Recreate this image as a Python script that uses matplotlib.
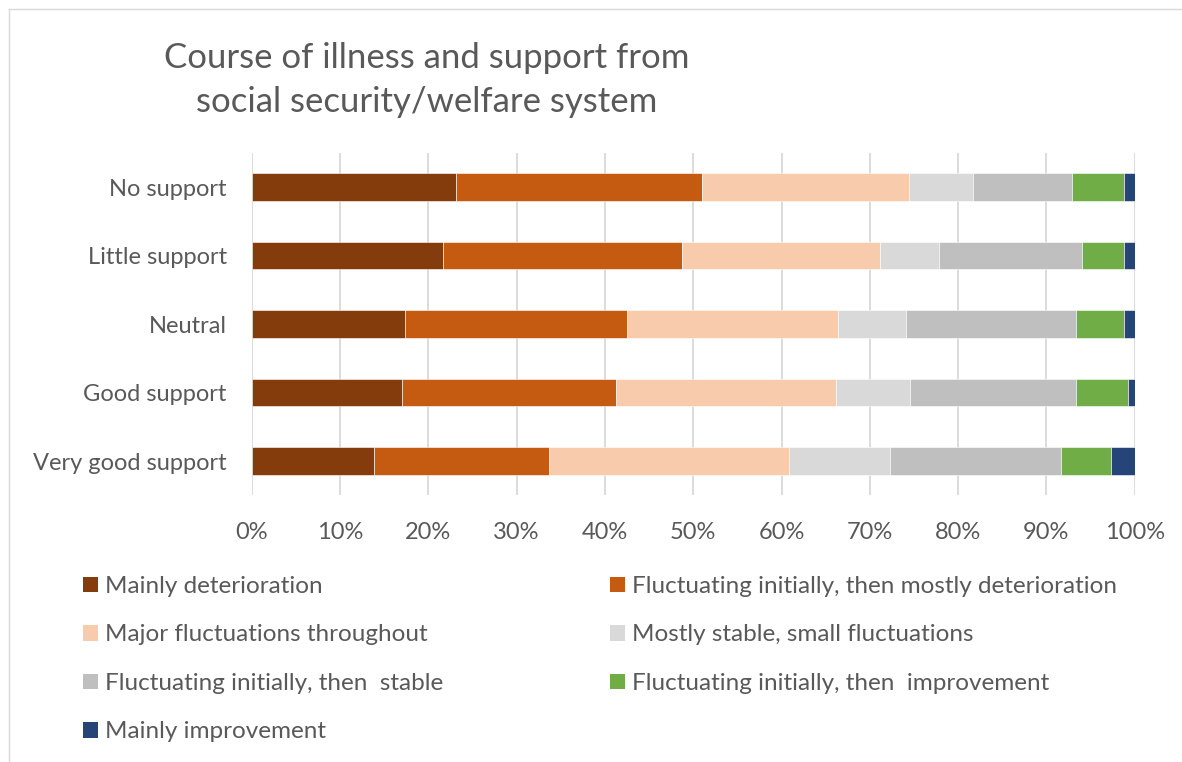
# grafic cu bare orizontale stivuite (100%) - evolutia bolii si sprijinul primit
import numpy as np
import matplotlib.pyplot as plt
from matplotlib.lines import Line2D
from matplotlib.patches import Patch

plt.rcParams['font.family'] = ['Lato', 'DejaVu Sans']

# date (procente)
categories = ["No support", "Little support", "Neutral", "Good support", "Very good support"]
series_names = [
    "Mainly deterioration",
    "Fluctuating initially, then mostly deterioration",
    "Major fluctuations throughout",
    "Mostly stable, small fluctuations",
    "Fluctuating initially, then  stable",
    "Fluctuating initially, then  improvement",
    "Mainly improvement",
]
mainly_deterioration = [23.1, 21.7, 17.4, 17.0, 13.85]
fluct_then_deterioration = [27.9, 27.0, 25.1, 24.2, 19.8]
major_fluctuations = [23.4, 22.4, 23.9, 25.0, 27.25]
mostly_stable = [7.3, 6.7, 7.7, 8.4, 11.4]
fluct_then_stable = [11.2, 16.2, 19.25, 18.75, 19.4]
fluct_then_improvement = [5.85, 4.75, 5.4, 5.85, 5.6]
mainly_improvement = [1.25, 1.25, 1.25, 0.8, 2.7]
colors = ["#843C0C", "#C55A11", "#F8CBAD", "#D9D9D9", "#BFBFBF", "#70AD47", "#264478"]
xticks = [0, 10, 20, 30, 40, 50, 60, 70, 80, 90, 100]

series = [mainly_deterioration, fluct_then_deterioration, major_fluctuations,
          mostly_stable, fluct_then_stable, fluct_then_improvement, mainly_improvement]

text_col = "#595959"
fig = plt.figure(figsize=(11.82, 7.62), dpi=100)

# chenarul zonei graficului (doar stanga si sus se vad)
fig.add_artist(Line2D([9/1182, 9/1182], [0, 1 - 9/762], transform=fig.transFigure, color="#D9D9D9", lw=1))
fig.add_artist(Line2D([9/1182, 1], [1 - 9/762, 1 - 9/762], transform=fig.transFigure, color="#D9D9D9", lw=1))

ax = fig.add_axes([0.213, 0.350, 0.747, 0.4495])
y = np.arange(len(categories))
left = np.zeros(len(categories))
handles = []
for name, vals, c in zip(series_names, series, colors):
    ax.barh(y, vals, left=left, height=0.404, color=c, edgecolor="white", linewidth=0.4, zorder=3)
    left = left + np.array(vals)
    handles.append(Patch(facecolor=c, edgecolor="none", label=name))

ax.set_xlim(0, 100)
ax.set_ylim(len(categories) - 0.5, -0.5)
ax.set_xticks(xticks)
ax.set_xticklabels([f"{t}%" for t in xticks])
ax.set_yticks(y)
ax.set_yticklabels(categories)
ax.grid(True, axis="x", color="#D9D9D9", linewidth=1.3, zorder=0)
for s in ax.spines.values():
    s.set_visible(False)
ax.tick_params(axis="both", length=0, labelsize=17, colors=text_col)
ax.tick_params(axis="y", pad=18)
ax.tick_params(axis="x", pad=19)

# titlul pe doua randuri
fig.text(427/1182, 1 - 80/762, "Course of illness and support from\nsocial security/welfare system",
         ha="center", va="center", fontsize=25, color=text_col, linespacing=1.45)

# legenda: ordinea pe coloane ca sa iasa randurile ca in Excel
order = [0, 2, 4, 6, 1, 3, 5]
fig.legend([handles[i] for i in order], [series_names[i] for i in order], ncol=2,
           loc="upper left", bbox_to_anchor=(83/1182, 1 - 576/762), frameon=False,
           fontsize=17.5, labelcolor=text_col, handlelength=0.6, handleheight=0.6,
           handletextpad=0.3, columnspacing=6.87, labelspacing=1.13, borderaxespad=0,
           borderpad=0)

plt.savefig("out.png", dpi=100)
